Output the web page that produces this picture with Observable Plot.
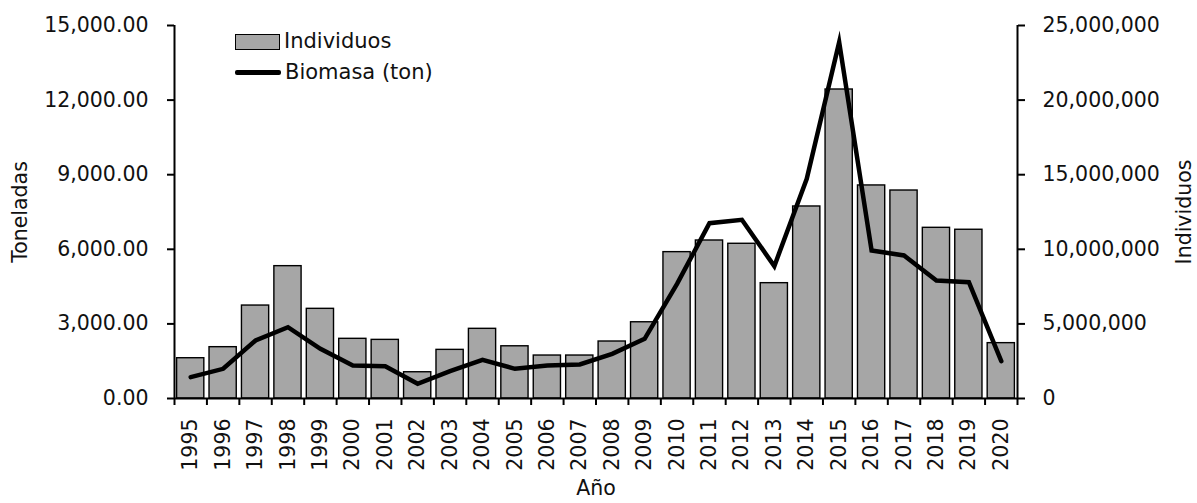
<!DOCTYPE html>
<html>
<head>
<meta charset="utf-8">
<script src="https://cdn.jsdelivr.net/npm/d3@7"></script>
<script src="https://cdn.jsdelivr.net/npm/@observablehq/plot@0.6"></script>
<style>
  html, body { margin: 0; padding: 0; background: #fff; }
  #wrap { position: relative; width: 1197px; height: 503px; font-family: "DejaVu Sans", sans-serif; }
  #legend { position: absolute; left: 235px; top: 26px; font-size: 21px; color: #111; line-height: 1; }
  .item { display: flex; align-items: center; height: 31px; }
  .sw-bar { width: 45px; height: 16px; background: #a6a6a6; border: 1.5px solid #000; box-sizing: border-box; margin-right: 4px; }
  .sw-line { width: 46px; height: 4.5px; background: #000; margin-right: 4px; border-radius: 2px; }
</style>
</head>
<body>
<div id="wrap"><div id="chart"></div>
  <div id="legend">
    <div class="item"><div class="sw-bar"></div><span>Individuos</span></div>
    <div class="item"><div class="sw-line"></div><span>Biomasa (ton)</span></div>
  </div>
</div>
<script>
const years = [1995,1996,1997,1998,1999,2000,2001,2002,2003,2004,2005,2006,2007,2008,2009,2010,2011,2012,2013,2014,2015,2016,2017,2018,2019,2020];
const individuos = [2700000,3440000,6230000,8870000,6010000,4000000,3930000,1760000,3260000,4670000,3500000,2880000,2880000,3820000,5110000,9810000,10590000,10370000,7730000,12870000,20710000,14280000,13940000,11440000,11310000,3710000];
const biomasa = [860,1194,2332,2868,1998,1327,1300,590,1099,1555,1194,1327,1367,1797,2400,4611,7050,7185,5322,8834,14330,5952,5751,4745,4678,1501];
const tonTicks = [0,3000,6000,9000,12000,15000];
const indTicks = [0,5000000,10000000,15000000,20000000,25000000];
const tonMax = 15000, indMax = 25000000;
const k = tonMax / indMax;

const data = years.map((y, i) => ({year: y, ind: individuos[i], ton: biomasa[i]}));
const bounds = d3.range(years[0] - 0.5, years[years.length - 1] + 1, 1);
const fmtTon = d3.format(",.2f");
const fmtInd = d3.format(",");

const chart = Plot.plot({
  width: 1197,
  height: 503,
  marginLeft: 174,
  marginRight: 180,
  marginTop: 25,
  marginBottom: 105,
  style: {fontFamily: "DejaVu Sans, sans-serif", fontSize: "20.5px", color: "#111", background: "#fff"},
  x: {domain: [years[0] - 0.5, years[years.length - 1] + 0.5]},
  y: {domain: [0, tonMax]},
  marks: [
    Plot.rectY(data, {x1: d => d.year - 0.5, x2: d => d.year + 0.5, y: d => d.ind * k, insetLeft: 2.6, insetRight: 2.6, fill: "#a6a6a6", stroke: "#000", strokeWidth: 1.4}),
    Plot.line(data, {x: "year", y: "ton", stroke: "#000", strokeWidth: 4.5, strokeLinejoin: "miter", strokeMiterlimit: 10}),
    Plot.ruleX([years[0] - 0.5, years[years.length - 1] + 0.5], {stroke: "#000", strokeWidth: 2}),
    Plot.ruleY([0], {stroke: "#000", strokeWidth: 2}),
    Plot.axisY({anchor: "left", ticks: tonTicks, tickFormat: fmtTon, tickSize: 7, tickPadding: 19, strokeWidth: 2, stroke: "#000",
      label: "Toneladas", labelAnchor: "center", labelOffset: 162, labelArrow: false}),
    Plot.axisY({anchor: "right", ticks: indTicks.map(v => v * k), tickFormat: v => fmtInd(Math.round(v / k)), tickSize: 7, tickPadding: 18, strokeWidth: 2, stroke: "#000",
      label: "Individuos", labelAnchor: "center", labelOffset: 173, labelArrow: false}),
    Plot.axisX({ticks: bounds, tickFormat: () => "", tickSize: 7, strokeWidth: 2, stroke: "#000", label: null}),
    Plot.axisX({ticks: years, tickFormat: d => String(d), tickSize: 0, tickPadding: 20, tickRotate: -90,
      label: "Año", labelAnchor: "center", labelOffset: 96, labelArrow: false})
  ]
});
document.getElementById("chart").appendChild(chart);
</script>
</body>
</html>
